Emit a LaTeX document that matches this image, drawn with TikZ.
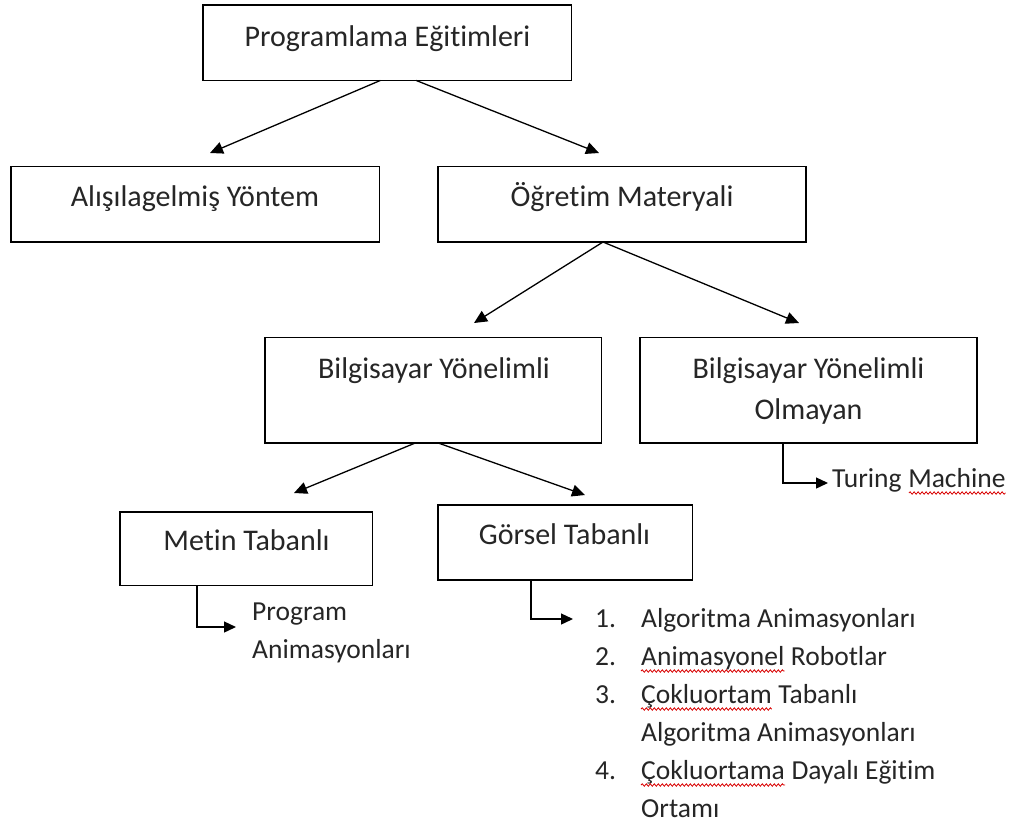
\documentclass[tikz,border=0pt]{standalone}
\usepackage{fontspec}
\setmainfont{Carlito}[Ligatures={NoCommon,NoRare}]
\usetikzlibrary{arrows.meta,decorations.pathmorphing,calc}
\begin{document}
\begin{tikzpicture}[x=1pt,y=-1pt,
  box/.style={draw,line width=1.4pt,inner sep=0pt,outer sep=0pt},
  lbl/.style={font=\fontsize{30}{36}\selectfont,inner sep=0pt,anchor=base,text=black!85},
  item/.style={font=\fontsize{27.5}{33}\selectfont,inner sep=0pt,anchor=base west,text=black!85},
  arr/.style={line width=1.3pt,-{Triangle[length=13pt,width=12pt]}},
  elb/.style={line width=1.3pt,-{Triangle[length=12pt,width=11pt]}},
  wavy/.style={red!85!black,line width=0.8pt,decorate,decoration={snake,amplitude=1.2pt,segment length=4pt}}]
\useasboundingbox[fill=white] (0,0) rectangle (1019,825);

% boxes
\node[box,minimum width=368.5pt,minimum height=75.5pt] (b1) at (387.25,42.75) {};
\node[box,minimum width=368.5pt,minimum height=75.5pt] (b2) at (195.25,204.25) {};
\node[box,minimum width=368pt,minimum height=75.5pt] (b3) at (622,204.25) {};
\node[box,minimum width=336.5pt,minimum height=105.5pt] (b4) at (433.25,390.25) {};
\node[box,minimum width=337pt,minimum height=105.5pt] (b5) at (808.5,390.25) {};
\node[box,minimum width=252.5pt,minimum height=73.5pt] (b6) at (246.25,548.75) {};
\node[box,minimum width=254.5pt,minimum height=75pt] (b7) at (565.25,542.5) {};

% box labels
\node[lbl] (t1) at (387.5,46) {Programlama Eğitimleri};
\node[lbl] (t2) at (195,206) {Alışılagelmiş Yöntem};
\node[lbl] (t3) at (622,206) {Öğretim Materyali};
\node[lbl] (t4) at (434,378) {Bilgisayar Yönelimli};
\node[lbl] (t5a) at (808.5,378) {Bilgisayar Yönelimli};
\node[lbl] (t5b) at (808.5,419) {Olmayan};
\node[lbl] (t6) at (246.5,550) {Metin Tabanlı};
\node[lbl] (t7) at (564.5,544) {Görsel Tabanlı};

% arrow tips
\coordinate (p2) at (210,153);
\coordinate (p3) at (599,153);
\coordinate (p4) at (474,323);
\coordinate (p5) at (799,323);
\coordinate (p6) at (294,493);
\coordinate (p7) at (585,495);

\draw[arr] ([xshift=-7pt]b1.south) -- (p2);
\draw[arr] ([xshift=29pt]b1.south) -- (p3);
\draw[arr] ([xshift=-19pt]b3.south) -- (p4);
\draw[arr] ([xshift=-19pt]b3.south) -- (p5);
\draw[arr] ([xshift=-18pt]b4.south) -- (p6);
\draw[arr] ([xshift=5pt]b4.south) -- (p7);

% side texts
\node[item] (pa) at (252,620) {Program};
\node[item] (pb) at (252,658) {Animasyonları};
\node[item] (tm1) at (832,487) {Turing};
\node[item] (tm2) at (tm1.base east) {\ Machine};
\draw[wavy] ($(tm2.base west)+(7,6)$) -- ($(tm2.base east)+(0,6)$);

% list
\node[item] (n1) at (595,627) {1.};
\node[item] (l1) at (641,627) {Algoritma Animasyonları};
\node[item] (n2) at (595,665) {2.};
\node[item] (w2) at (641,665) {Animasyonel};
\node[item] (l2) at (w2.base east) {\ Robotlar};
\node[item] (n3) at (595,703) {3.};
\node[item] (w3) at (641,703) {Çokluortam};
\node[item] (l3) at (w3.base east) {\ Tabanlı};
\node[item] (l3b) at (641,741) {Algoritma Animasyonları};
\node[item] (n4) at (595,779) {4.};
\node[item] (w4) at (641,779) {Çokluortama};
\node[item] (l4) at (w4.base east) {\ Dayalı Eğitim};
\node[item] (l4b) at (641,817) {Ortamı};
\draw[wavy] ($(w2.base west)+(0,6)$) -- ($(w2.base east)+(0,6)$);
\draw[wavy] ($(w3.base west)+(0,6)$) -- ($(w3.base east)+(0,6)$);
\draw[wavy] ($(w4.base west)+(0,6)$) -- ($(w4.base east)+(0,6)$);

% elbow connectors
\coordinate (e6) at (236,627);
\coordinate (e7) at (573,619);
\coordinate (e5) at (828,483);
\draw[elb] (b6.south -| 197,0) |- (e6);
\draw[elb] (b7.south -| 531,0) |- (e7);
\draw[elb] (b5.south -| 783,0) |- (e5);
\end{tikzpicture}
\end{document}
